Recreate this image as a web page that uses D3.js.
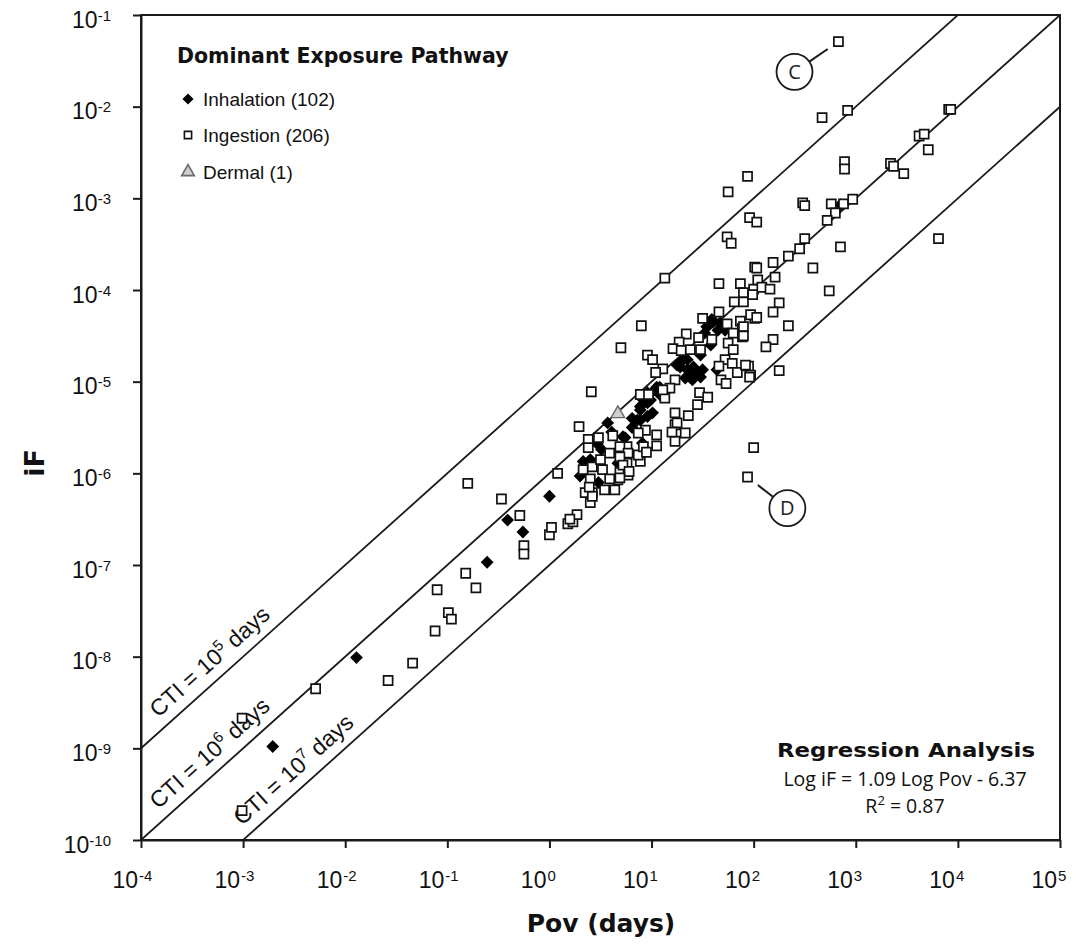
<!DOCTYPE html>
<html><head><meta charset="utf-8">
<script src="https://cdn.jsdelivr.net/npm/d3@7"></script>
<style>body{margin:0;background:#fff}svg{display:block}</style>
</head><body>
<svg id="chart" width="1073" height="945"></svg>
<script>
// ---------- data (log10 units) ----------
const xTickExponents = [-4, -3, -2, -1, 0, 1, 2, 3, 4, 5];
const yTickExponents = [-1, -2, -3, -4, -5, -6, -7, -8, -9, -10];
const ctiValues = [1e5, 1e6, 1e7];
const ctiExponents = [5, 6, 7];
const ctiLabelStartLogPov = [-3.76, -3.76, -2.94];

const legendTitle = "Dominant Exposure Pathway";
const legendLabels = ["Inhalation (102)", "Ingestion (206)", "Dermal (1)"];

const regressionTitle = "Regression Analysis";
const regressionEquation = "Log iF = 1.09 Log Pov - 6.37";
const regressionR2 = "0.87";

// [log10 Pov (days), log10 iF]
const inhalationLog = [
[-2.71,-8.98],[-1.89,-8.01],[-0.61,-6.97],[-0.26,-6.64],[-0.41,-6.51],[0.00,-6.25],[0.30,-6.03],
[0.57,-5.45],[0.74,-5.61],[0.51,-5.74],[0.40,-5.85],[0.89,-5.31],[0.96,-5.23],[0.86,-5.42],
[1.01,-5.34],[0.92,-5.20],[0.91,-5.67],[0.94,-5.74],[0.67,-5.89],[1.54,-4.40],[1.60,-4.35],
[1.67,-4.36],[1.65,-4.44],[1.31,-4.76],[1.35,-4.87],[1.45,-4.90],[1.48,-4.95],[1.25,-4.82],
[1.05,-5.06],[0.96,-5.12],[0.89,-5.27],[0.89,-5.42],[0.96,-5.38],[0.72,-5.60],[1.64,-4.87],
[1.35,-4.76],[1.41,-4.84],[1.40,-4.98],[1.28,-4.84],[1.08,-5.06],[1.03,-5.09],[2.85,-3.07],
[0.48,-6.10],[0.81,-5.50],[0.99,-5.20],[1.48,-4.71],[1.58,-4.60],[1.72,-4.44],
[1.59,-4.32],[1.52,-4.47],[1.38,-4.90],[1.33,-4.96],[1.50,-4.87],[0.81,-5.40],[0.61,-5.55],
[1.08,-5.14],[0.47,-5.68],[0.33,-5.87]
];
const ingestionLog = [
[-3.01,-9.68],[-3.01,-8.67],[-2.29,-8.35],[-1.58,-8.26],[-1.34,-8.07],
[-1.12,-7.72],[-0.99,-7.52],[-0.96,-7.59],[-0.82,-7.09],[-1.10,-7.27],[-0.72,-7.25],
[-0.80,-6.11],[-0.47,-6.28],[-0.29,-6.46],[-0.25,-6.79],[-0.25,-6.88],[0.00,-6.67],[0.02,-6.59],
[0.08,-6.00],[0.18,-6.55],[0.23,-6.53],[0.27,-6.45],[0.20,-6.50],
[0.29,-5.49],[0.38,-5.63],[0.48,-5.61],[0.38,-5.72],[0.33,-5.96],[0.42,-5.93],[0.52,-5.96],
[0.40,-6.06],[0.35,-6.21],[0.42,-6.21],[0.40,-6.32],[0.54,-6.18],[0.64,-6.18],[0.62,-5.59],
[0.74,-5.80],[0.76,-5.89],[0.69,-5.99],[0.67,-6.07],[0.77,-6.02],[0.89,-5.87],[0.87,-5.80],
[1.05,-5.58],[0.94,-5.53],[0.87,-5.56],[1.23,-5.47],[1.23,-5.65],[1.33,-5.56],[1.05,-5.70],
[0.92,-5.71],[0.59,-5.78],[0.76,-5.71],[2.00,-5.72],[1.94,-6.04],[0.50,-5.85],[0.69,-5.71],
[0.77,-5.78],[0.69,-5.82],[0.72,-5.91],[0.78,-5.98],[0.69,-6.05],[0.42,-6.25],[0.39,-6.15],
[0.59,-6.06],[1.13,-5.18],[1.45,-5.25],[1.23,-5.34],[1.25,-5.45],[1.36,-5.37],[1.20,-5.55],
[0.95,-5.77],
[1.13,-3.87],[1.66,-3.93],[1.87,-3.93],[2.01,-3.75],[2.00,-3.99],[1.90,-4.03],[1.81,-4.13],
[1.90,-4.13],[0.90,-4.39],[1.66,-4.24],[0.70,-4.63],[1.50,-4.31],[1.74,-4.37],[1.87,-4.34],
[2.01,-4.31],[1.89,-4.42],[1.80,-4.47],[1.34,-4.48],[1.46,-4.52],[1.59,-4.54],[1.89,-4.51],
[1.27,-4.57],[0.96,-4.71],[1.01,-4.76],[1.21,-4.64],[1.29,-4.66],[1.38,-4.65],[1.48,-4.65],
[1.75,-4.58],[1.80,-4.65],[1.72,-4.76],[1.79,-4.80],[1.66,-4.83],[1.95,-4.83],[1.84,-4.90],
[1.97,-4.93],[1.11,-4.86],[1.04,-4.90],[1.23,-4.98],[1.18,-5.07],[1.11,-5.09],[1.68,-4.98],
[1.73,-5.02],[0.41,-5.11],[0.89,-5.14],[0.97,-5.14],[1.47,-5.12],[1.55,-5.17],
[2.48,-3.05],[2.50,-3.08],[2.76,-3.06],[2.88,-3.06],[2.97,-3.01],[2.80,-3.16],[2.72,-3.24],
[1.96,-3.21],[2.03,-3.26],[2.50,-3.44],[2.45,-3.55],[2.34,-3.63],[2.85,-3.53],[3.81,-3.44],
[2.19,-3.70],[2.03,-3.76],[2.58,-3.76],[2.21,-3.86],[2.04,-3.89],[2.08,-3.97],[2.16,-3.99],
[1.99,-4.05],[2.74,-4.01],[2.25,-4.14],[2.19,-4.24],[1.97,-4.27],[2.03,-4.30],[1.90,-4.40],
[1.90,-4.50],[2.34,-4.39],[2.19,-4.54],[2.12,-4.62],[1.92,-4.82],[1.96,-4.95],[2.25,-4.88],
[2.83,-1.29],[2.92,-2.04],[2.67,-2.12],[1.94,-2.76],[2.89,-2.60],[2.89,-2.68],[3.34,-2.62],
[3.37,-2.65],[3.47,-2.73],[3.62,-2.32],[3.67,-2.30],[3.71,-2.47],[3.91,-2.03],[3.93,-2.03],
[1.75,-2.93],[1.74,-3.42],[1.78,-3.49]
];
const dermalLog = [[0.67,-5.35]];

// annotation callouts: circle centre and the point they refer to (log10 units)
const annotationLabels = ["C", "D"];
const annotationCentersLog = [[2.40,-1.62],[2.33,-6.38]];
const annotationTargetsLog = [[2.83,-1.29],[1.94,-6.04]];

// ---------- chart ----------
const plot = {left:141, right:1060, top:15, bottom:840};
const xDomain = [1e-4, 1e5], yDomain = [1e-10, 1e-1];
const x = d3.scaleLog().domain(xDomain).range([plot.left, plot.right]);
const y = d3.scaleLog().domain(yDomain).range([plot.bottom, plot.top]);
const toVal = d => [Math.pow(10, d[0]), Math.pow(10, d[1])];
const inhalation = inhalationLog.map(toVal);
const ingestion = ingestionLog.map(toVal);
const dermal = dermalLog.map(toVal);

const svg = d3.select("#chart");
const INK = "#1a1a1a";
const tickFont = "'Liberation Sans', Arial, sans-serif";

svg.append("defs").append("clipPath").attr("id","plotClip")
  .append("rect").attr("x",plot.left).attr("y",plot.top)
  .attr("width",plot.right-plot.left).attr("height",plot.bottom-plot.top);

// axes (ticks only; frame drawn after)
const xAxis = d3.axisBottom(x).tickValues(xTickExponents.map(e=>Math.pow(10,e)))
  .tickSize(8).tickSizeOuter(0).tickFormat("");
const yAxis = d3.axisLeft(y).tickValues(yTickExponents.map(e=>Math.pow(10,e)))
  .tickSize(8).tickSizeOuter(0).tickFormat("");
const gx = svg.append("g").attr("transform",`translate(0,${plot.bottom})`).call(xAxis);
const gy = svg.append("g").attr("transform",`translate(${plot.left},0)`).call(yAxis);
[gx, gy].forEach(g => {
  g.selectAll("line").attr("stroke",INK).attr("stroke-width",2);
  g.select(".domain").attr("stroke",INK).attr("stroke-width",2);
});

// x tick labels
const xl = svg.append("g").attr("font-family",tickFont).attr("fill","#111");
xTickExponents.forEach(e => {
  const px = x(Math.pow(10,e));
  xl.append("text").attr("x",px-3).attr("y",888).attr("text-anchor","end")
    .attr("font-size",23).text("10");
  xl.append("text").attr("x",px-2).attr("y",881).attr("text-anchor","start")
    .attr("font-size",15).text(String(e));
});
// y tick labels
const yl = svg.append("g").attr("font-family",tickFont).attr("fill","#111");
yTickExponents.forEach(e => {
  const py = y(Math.pow(10,e));
  const t = yl.append("text").attr("x",111).attr("y",py+12.5).attr("text-anchor","end");
  t.append("tspan").attr("font-size",23).text("10");
  t.append("tspan").attr("font-size",15).attr("dy",-7).text(String(e));
});

// axis titles
svg.append("text").attr("x",601).attr("y",932).attr("text-anchor","middle")
  .attr("font-family","'DejaVu Sans', sans-serif").attr("font-weight","bold")
  .attr("font-size",25).attr("fill","#111").text("Pov (days)");
svg.append("text").attr("transform","translate(44,463) rotate(-90)").attr("text-anchor","middle")
  .attr("font-family","'DejaVu Sans', sans-serif").attr("font-weight","bold")
  .attr("font-size",27).attr("fill","#111").text("iF");

// CTI lines (iF = Pov / CTI)
const line = d3.line().x(d=>x(d[0])).y(d=>y(d[1]));
const gl = svg.append("g").attr("clip-path","url(#plotClip)");
ctiValues.forEach(cti => {
  gl.append("path").attr("d", line(xDomain.map(p => [p, p/cti])))
    .attr("fill","none").attr("stroke",INK).attr("stroke-width",1.8);
});
const angle = Math.atan2(y(1e-9)-y(1e-10), x(1e-3)-x(1e-4)) * 180/Math.PI;
ctiValues.forEach((cti,i) => {
  const p = Math.pow(10, ctiLabelStartLogPov[i]);
  const t = svg.append("text")
    .attr("transform",`translate(${x(p)},${y(p/cti)}) rotate(${angle})`)
    .attr("y",-11).attr("font-family",tickFont).attr("font-size",23).attr("fill","#111");
  t.append("tspan").text("CTI = 10");
  t.append("tspan").attr("font-size",15).attr("dy",-9).text(String(ctiExponents[i]));
  t.append("tspan").attr("dy",9).text(" days");
});

// markers
const sqPath = d3.symbol().type(d3.symbolSquare).size(82)();
const diaPath = d3.symbol().type(d3.symbolSquare).size(82)();
const triPath = d3.symbol().type(d3.symbolTriangle).size(80)();
const gm = svg.append("g").attr("clip-path","url(#plotClip)");
gm.selectAll("path.inh").data(inhalation).join("path").attr("class","inh")
  .attr("d",diaPath).attr("transform",d=>`translate(${x(d[0])},${y(d[1])}) rotate(45)`)
  .attr("fill","#000");
gm.selectAll("path.ing").data(ingestion).join("path").attr("class","ing")
  .attr("d",sqPath).attr("transform",d=>`translate(${x(d[0])},${y(d[1])})`)
  .attr("fill","#fff").attr("stroke","#111").attr("stroke-width",1.7);
gm.selectAll("path.der").data(dermal).join("path").attr("class","der")
  .attr("d",triPath).attr("transform",d=>`translate(${x(d[0])},${y(d[1])})`)
  .attr("fill","#cfcfcf").attr("stroke","#6a6a6a").attr("stroke-width",1.4);

// frame
svg.append("rect").attr("x",plot.left).attr("y",plot.top)
  .attr("width",plot.right-plot.left).attr("height",plot.bottom-plot.top)
  .attr("fill","none").attr("stroke",INK).attr("stroke-width",2);

// annotations
annotationLabels.forEach((lab,i) => {
  const c = toVal(annotationCentersLog[i]), tg = toVal(annotationTargetsLog[i]);
  const cx = x(c[0]), cy = y(c[1]), tx = x(tg[0]), ty = y(tg[1]);
  const r = 18, dx = tx-cx, dy = ty-cy, dist = Math.hypot(dx,dy);
  svg.append("line").attr("x1",cx+dx/dist*r).attr("y1",cy+dy/dist*r)
    .attr("x2",cx+dx/dist*(dist-13)).attr("y2",cy+dy/dist*(dist-13))
    .attr("stroke",INK).attr("stroke-width",2);
  svg.append("circle").attr("cx",cx).attr("cy",cy).attr("r",r)
    .attr("fill","#fff").attr("stroke",INK).attr("stroke-width",1.8);
  svg.append("text").attr("x",cx).attr("y",cy+7).attr("text-anchor","middle")
    .attr("font-family","'Open Sans', sans-serif").attr("font-size",20).attr("fill","#222").text(lab);
});

// legend
const lg = svg.append("g");
lg.append("text").attr("x",177).attr("y",63).attr("font-family","'DejaVu Sans', sans-serif")
  .attr("font-weight","bold").attr("font-size",20.5).attr("fill","#111").text(legendTitle);
const legendY = [99, 135, 172];
const legendMarks = [
  {d: d3.symbol().type(d3.symbolSquare).size(62)(), rot:45, fill:"#000", stroke:"none"},
  {d: d3.symbol().type(d3.symbolSquare).size(52)(), rot:0, fill:"#fff", stroke:"#111"},
  {d: d3.symbol().type(d3.symbolTriangle).size(70)(), rot:0, fill:"#cfcfcf", stroke:"#6a6a6a"}
];
legendLabels.forEach((lab,i) => {
  const m = legendMarks[i];
  lg.append("path").attr("d",m.d).attr("transform",`translate(188,${legendY[i]}) rotate(${m.rot})`)
    .attr("fill",m.fill).attr("stroke",m.stroke).attr("stroke-width",1.6);
  lg.append("text").attr("x",203).attr("y",legendY[i]+7).attr("font-family",tickFont)
    .attr("font-size",19).attr("fill","#111").text(lab);
});

// regression box text
const rg = svg.append("g").attr("text-anchor","middle").attr("fill","#111");
rg.append("text").attr("x",906).attr("y",757).attr("font-family","'DejaVu Sans', sans-serif")
  .attr("font-weight","bold").attr("font-size",19).attr("textLength",258)
  .attr("lengthAdjust","spacingAndGlyphs").text(regressionTitle);
rg.append("text").attr("x",905).attr("y",786).attr("font-family","'Open Sans', sans-serif")
  .attr("font-size",19.5).text(regressionEquation);
const r2 = rg.append("text").attr("x",905).attr("y",813).attr("font-family","'Open Sans', sans-serif")
  .attr("font-size",19.5);
r2.append("tspan").text("R");
r2.append("tspan").attr("font-size",13).attr("dy",-8).text("2");
r2.append("tspan").attr("dy",8).text(" = " + regressionR2);
</script>
</body></html>
